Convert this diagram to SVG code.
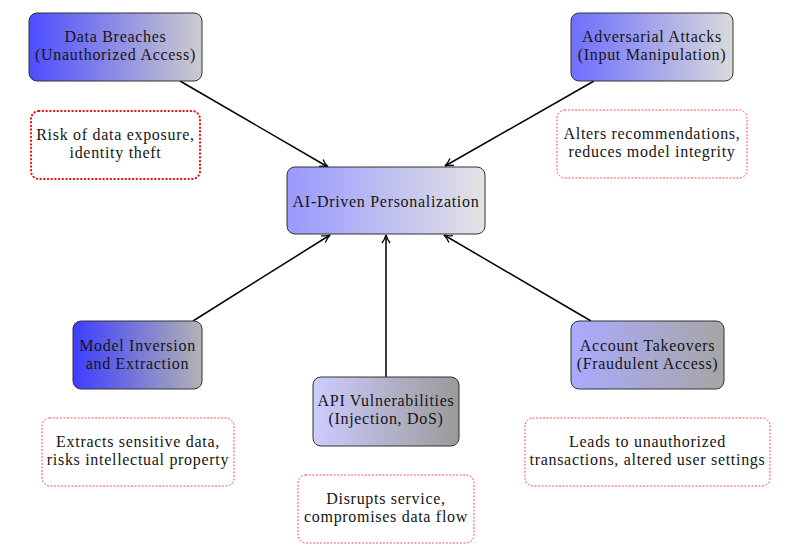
<svg xmlns="http://www.w3.org/2000/svg" width="790" height="550" viewBox="0 0 790 550">
<defs>
<linearGradient id="g1" x1="0" x2="1" y1="0" y2="0"><stop offset="0" stop-color="#4d4dff"/><stop offset="1" stop-color="#cccccc"/></linearGradient>
<linearGradient id="g2" x1="0" x2="1" y1="0" y2="0"><stop offset="0" stop-color="#6e6eff"/><stop offset="1" stop-color="#dadada"/></linearGradient>
<linearGradient id="gc" x1="0" x2="1" y1="0" y2="0"><stop offset="0" stop-color="#9999ff"/><stop offset="1" stop-color="#e3e3e3"/></linearGradient>
<linearGradient id="g4" x1="0" x2="1" y1="0" y2="0"><stop offset="0" stop-color="#3d3dff"/><stop offset="1" stop-color="#b3b3b3"/></linearGradient>
<linearGradient id="g5" x1="0" x2="1" y1="0" y2="0"><stop offset="0" stop-color="#ccccff"/><stop offset="1" stop-color="#9a9a9a"/></linearGradient>
<linearGradient id="g6" x1="0" x2="1" y1="0" y2="0"><stop offset="0" stop-color="#aaaaff"/><stop offset="1" stop-color="#a6a6a6"/></linearGradient>
<marker id="arr" viewBox="0 0 10 10" refX="9" refY="5" markerWidth="10" markerHeight="10" markerUnits="userSpaceOnUse" orient="auto">
<path d="M1,1 Q5,4 9,5 Q5,6 1,9" fill="none" stroke="#000" stroke-width="1.3"/>
</marker>
</defs>
<style>
.node{stroke:#333;stroke-width:1}
.note{fill:none;stroke:#ff4040;stroke-width:1;stroke-dasharray:1 2.5;stroke-linecap:round}
.note.thick{stroke:#e81010;stroke-width:2;stroke-dasharray:0.5 3.2}
text{font-family:"Liberation Serif","DejaVu Serif",serif;font-size:16px;letter-spacing:0.7px;fill:#151515;text-anchor:middle}
.edge{stroke:#000;stroke-width:1.5;fill:none;marker-end:url(#arr)}
</style>
<g id="connectors">
<line class="edge" x1="180" y1="81" x2="328" y2="167"/>
<line class="edge" x1="594" y1="81" x2="445" y2="166"/>
<line class="edge" x1="193" y1="321" x2="330" y2="235"/>
<line class="edge" x1="386" y1="377" x2="386" y2="235"/>
<line class="edge" x1="591" y1="321" x2="444" y2="235"/>
</g>
<g id="center">
<rect class="node" x="287" y="167" width="198" height="67" rx="8" fill="url(#gc)"/>
<text x="386" y="207">AI-Driven Personalization</text>
</g>
<g id="data-breaches">
<rect class="node" x="29" y="13" width="173" height="68" rx="8" fill="url(#g1)"/>
<text x="115.5" y="41.5">Data Breaches</text>
<text x="115.5" y="60">(Unauthorized Access)</text>
</g>
<g id="note-data-breaches">
<rect class="note thick" x="31" y="111" width="169" height="68" rx="8"/>
<text x="115.5" y="139.5">Risk of data exposure,</text>
<text x="115.5" y="158">identity theft</text>
</g>
<g id="adversarial">
<rect class="node" x="571" y="13" width="162" height="68" rx="8" fill="url(#g2)"/>
<text x="652" y="41.5">Adversarial Attacks</text>
<text x="652" y="60">(Input Manipulation)</text>
</g>
<g id="note-adversarial">
<rect class="note" x="557" y="110" width="190" height="68" rx="8"/>
<text x="652" y="138.5">Alters recommendations,</text>
<text x="652" y="157">reduces model integrity</text>
</g>
<g id="model-inversion">
<rect class="node" x="73" y="321" width="129" height="68" rx="8" fill="url(#g4)"/>
<text x="137.5" y="350.5">Model Inversion</text>
<text x="137.5" y="369">and Extraction</text>
</g>
<g id="note-model-inversion">
<rect class="note" x="42" y="418" width="192" height="68" rx="8"/>
<text x="138" y="446.5">Extracts sensitive data,</text>
<text x="138" y="465">risks intellectual property</text>
</g>
<g id="api">
<rect class="node" x="313" y="377" width="146" height="69" rx="8" fill="url(#g5)"/>
<text x="386" y="405.5">API Vulnerabilities</text>
<text x="386" y="424">(Injection, DoS)</text>
</g>
<g id="note-api">
<rect class="note" x="298" y="475" width="176" height="68" rx="8"/>
<text x="386" y="503.5">Disrupts service,</text>
<text x="386" y="522">compromises data flow</text>
</g>
<g id="account">
<rect class="node" x="571" y="321" width="153" height="68" rx="8" fill="url(#g6)"/>
<text x="647.5" y="350.5">Account Takeovers</text>
<text x="647.5" y="369">(Fraudulent Access)</text>
</g>
<g id="note-account">
<rect class="note" x="525" y="418" width="245" height="68" rx="8"/>
<text x="647.5" y="446.5">Leads to unauthorized</text>
<text x="647.5" y="465">transactions, altered user settings</text>
</g>
</svg>
